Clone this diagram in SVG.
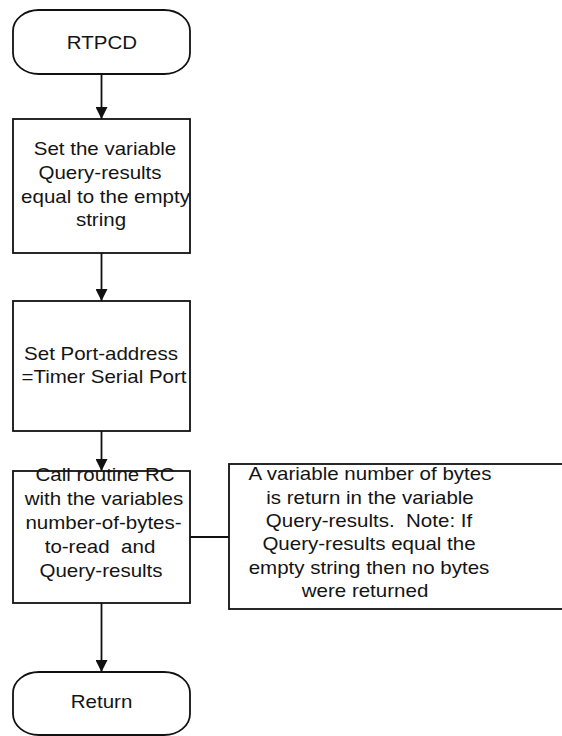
<svg xmlns="http://www.w3.org/2000/svg" width="562" height="736" viewBox="0 0 562 736">
  <style>
    .shape { fill: #ffffff; stroke: #111111; stroke-width: 1.8; }
    .wire { fill: none; stroke: #111111; stroke-width: 1.8; }
    .lbl { font-family: "Liberation Sans", Arial, sans-serif; font-size: 18px; fill: #141414; text-anchor: middle; }
  </style>
  <defs>
    <marker id="arrow" markerUnits="userSpaceOnUse" markerWidth="13" markerHeight="12" refX="12" refY="6" orient="auto">
      <path d="M0,0 L12,6 L0,12 Z" fill="#111111"/>
    </marker>
  </defs>
  <rect width="562" height="736" fill="#ffffff"/>

  <!-- connectors -->
  <g id="connectors">
    <line class="wire" x1="101.5" y1="74" x2="101.5" y2="119" marker-end="url(#arrow)"/>
    <line class="wire" x1="101.5" y1="253" x2="101.5" y2="301" marker-end="url(#arrow)"/>
    <line class="wire" x1="101.5" y1="431" x2="101.5" y2="471" marker-end="url(#arrow)"/>
    <line class="wire" x1="101.5" y1="603" x2="101.5" y2="672" marker-end="url(#arrow)"/>
    <line class="wire" x1="190" y1="537" x2="229" y2="537"/>
  </g>

  <!-- start terminal -->
  <g id="start">
    <rect class="shape" x="13" y="10" width="177" height="64" rx="26" ry="21"/>
    <text class="lbl" transform="translate(102 49) scale(1.14 1)">RTPCD</text>
  </g>

  <!-- clear query results -->
  <g id="init-query">
    <rect class="shape" x="13" y="119" width="177" height="134"/>
    <text class="lbl" transform="translate(105 155) scale(1.14 1)">Set the variable</text>
    <text class="lbl" transform="translate(100 179) scale(1.14 1)">Query-results</text>
    <text class="lbl" transform="translate(105.5 203) scale(1.14 1)">equal to the empty</text>
    <text class="lbl" transform="translate(101 226) scale(1.14 1)">string</text>
  </g>

  <!-- port selection -->
  <g id="set-port">
    <rect class="shape" x="13" y="301" width="177" height="130"/>
    <text class="lbl" transform="translate(101 360) scale(1.14 1)">Set Port-address</text>
    <text class="lbl" transform="translate(104 383) scale(1.14 1)">=Timer Serial Port</text>
  </g>

  <!-- read call -->
  <g id="call-rc">
    <rect class="shape" x="13" y="471" width="177" height="132"/>
    <text class="lbl" transform="translate(105 481) scale(1.14 1)">Call routine RC</text>
    <text class="lbl" transform="translate(104 505) scale(1.14 1)">with the variables</text>
    <text class="lbl" transform="translate(103.5 529) scale(1.14 1)">number-of-bytes-</text>
    <text class="lbl" transform="translate(100 553) scale(1.14 1)" xml:space="preserve">to-read  and</text>
    <text class="lbl" transform="translate(101 577) scale(1.14 1)">Query-results</text>
  </g>

  <!-- annotation -->
  <g id="note">
    <rect class="shape" x="229" y="464" width="345" height="145"/>
    <text class="lbl" transform="translate(370 480) scale(1.14 1)">A variable number of bytes</text>
    <text class="lbl" transform="translate(370 503.5) scale(1.14 1)">is return in the variable</text>
    <text class="lbl" transform="translate(369 527) scale(1.14 1)" xml:space="preserve">Query-results.  Note: If</text>
    <text class="lbl" transform="translate(369 550) scale(1.14 1)">Query-results equal the</text>
    <text class="lbl" transform="translate(369 573.5) scale(1.14 1)">empty string then no bytes</text>
    <text class="lbl" transform="translate(365 597) scale(1.14 1)">were returned</text>
  </g>

  <!-- end terminal -->
  <g id="return">
    <rect class="shape" x="13" y="672" width="177" height="63" rx="26" ry="21"/>
    <text class="lbl" transform="translate(101.5 708) scale(1.14 1)">Return</text>
  </g>
</svg>
